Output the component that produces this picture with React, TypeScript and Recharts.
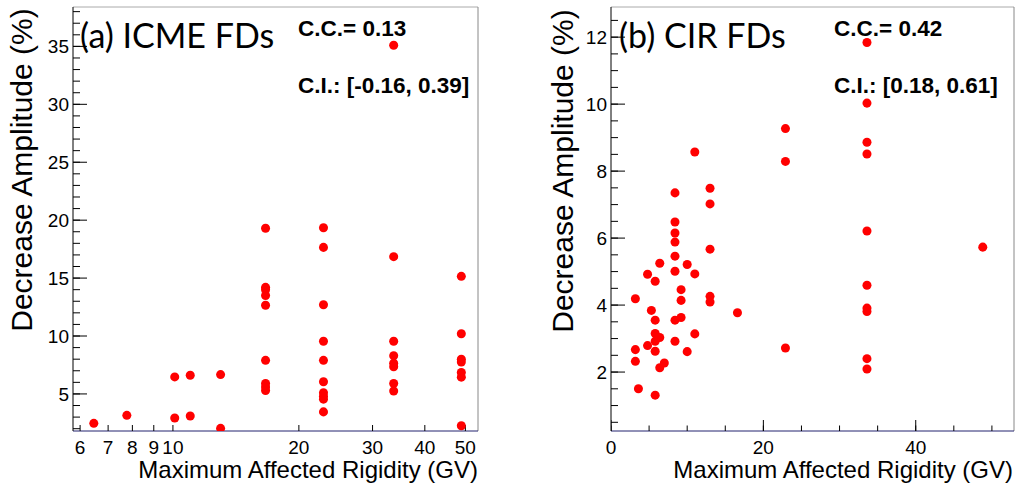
import { ReferenceLine, Scatter, ScatterChart, XAxis, YAxis, ZAxis } from 'recharts';

// (a) ICME FDs
const icmeRigidity = [
  6.47, 7.76, 10.1, 10.1, 11.0, 11.0, 13.0, 13.0,
  16.65, 16.65, 16.65, 16.65, 16.65, 16.65, 16.65, 16.65, 16.65,
  22.9, 22.9, 22.9, 22.9, 22.9, 22.9, 22.9, 22.9, 22.9, 22.9,
  33.7, 33.7, 33.7, 33.7, 33.7, 33.7, 33.7, 33.7,
  48.9, 48.9, 48.9, 48.9, 48.9, 48.9, 48.9,
];
const icmeAmplitude = [
  2.46, 3.15, 6.47, 2.92, 6.61, 3.1, 6.67, 2.03,
  19.3, 14.2, 14.0, 13.5, 12.65, 7.9, 5.9, 5.6, 5.3,
  19.35, 17.65, 12.7, 9.55, 7.9, 6.05, 5.1, 4.8, 4.55, 3.45,
  35.1, 16.85, 9.55, 8.3, 7.65, 7.35, 5.9, 5.25,
  15.15, 10.2, 8.0, 7.75, 6.85, 6.45, 2.25,
];

// (b) CIR FDs
const cirRigidity = [
  3.2, 3.2, 3.2, 3.6, 4.8, 4.8, 5.3,
  5.8, 5.8, 5.8, 5.8, 5.8, 5.8,
  6.4, 6.4, 6.4, 7.0,
  8.4, 8.4, 8.4, 8.4, 8.4, 8.4, 8.4, 8.4,
  9.2, 9.2, 9.2, 10.0, 10.0, 11.0, 11.0, 11.0,
  13.0, 13.0, 13.0, 13.0, 13.0, 16.6, 22.9, 22.9, 22.9,
  33.6, 33.6, 33.6, 33.6, 33.6, 33.6, 33.6, 33.6, 33.6, 33.6,
  48.8,
];
const cirAmplitude = [
  4.19, 2.67, 2.32, 1.5, 4.92, 2.79, 3.84,
  4.71, 3.55, 3.15, 2.92, 2.62, 1.31,
  5.25, 3.03, 2.13, 2.27,
  7.35, 6.48, 6.15, 5.88, 5.46, 5.01, 3.55, 2.92,
  4.46, 4.14, 3.63, 5.21, 2.61, 8.57, 4.93, 3.14,
  7.49, 7.02, 5.67, 4.26, 4.09, 3.77, 9.27, 8.29, 2.72,
  11.84, 10.03, 8.86, 8.51, 6.21, 4.59, 3.91, 3.81, 2.4, 2.09,
  5.73,
];

const icmeXTicks = [6, 7, 8, 9, 10, 20, 30, 40, 50];
const icmeYLabels = [5, 10, 15, 20, 25, 30, 35];
const icmeYTicks = [2, 3, 4, 5, 6, 7, 8, 9, 10, 11, 12, 13, 14, 15, 16, 17, 18, 19, 20, 21, 22, 23, 24, 25, 26, 27, 28, 29, 30, 31, 32, 33, 34, 35, 36, 37, 38];
const cirXLabels = [0, 20, 40];
const cirXTicks = [0, 5, 10, 15, 20, 25, 30, 35, 40, 45, 50];
const cirYLabels = [2, 4, 6, 8, 10, 12];
const cirYTicks = [0.5, 1, 1.5, 2, 2.5, 3, 3.5, 4, 4.5, 5, 5.5, 6, 6.5, 7, 7.5, 8, 8.5, 9, 9.5, 10, 10.5, 11, 11.5, 12, 12.5];

const icmeXDomain = [5.77, 53.6];
const icmeYDomain = [1.8, 38.4];
const cirXDomain = [0, 52.9];
const cirYDomain = [0.24, 12.9];

const FONT = '"Liberation Sans", Arial, Helvetica, sans-serif';
const TITLE_FONT = 'Lato, "Open Sans", sans-serif';

const icmeData = icmeRigidity.map((x, i) => ({ x, y: icmeAmplitude[i] }));
const cirData = cirRigidity.map((x, i) => ({ x, y: cirAmplitude[i] }));

// tick marks as points sitting on the axes, so they go through the same scales
const onYAxis = (vals: number[], x: number) => vals.map((y) => ({ x, y }));
const onXAxis = (vals: number[], y: number) => vals.map((x) => ({ x, y }));

const hTick = (len: number) => (p: any) => <rect x={p.cx} y={p.cy - 0.5} width={len} height={1} fill="#000" />;
const vTick = (len: number) => (p: any) => <rect x={p.cx - 0.5} y={p.cy - len} width={1} height={len} fill="#000" />;

const tickText = { fill: '#000', fontSize: 19, fontFamily: FONT };

// absolutely placed text, y is the baseline
function Txt(props: { x: number; y: number; size: number; bold?: boolean; font?: string; align?: 'left' | 'right'; children: string }) {
  const { x, y, size, bold, font, align = 'left', children } = props;
  const asc = font ? 0.887 : 0.8465;
  const w = 420;
  return (
    <div
      style={{
        position: 'absolute',
        left: align === 'left' ? x : x - w,
        top: y - asc * size,
        width: w,
        textAlign: align,
        fontFamily: font || FONT,
        fontSize: size,
        lineHeight: `${size}px`,
        fontWeight: bold ? 'bold' : 'normal',
        whiteSpace: 'nowrap',
        color: '#000',
      }}
    >
      {children}
    </div>
  );
}

// vertical title, bx is the baseline position and cy the centre
function VTxt({ bx, cy, size, children }: { bx: number; cy: number; size: number; children: string }) {
  const w = 420;
  const cx = bx - 0.8465 * size + size / 2;
  return (
    <div
      style={{
        position: 'absolute',
        left: cx - w / 2,
        top: cy - size / 2,
        width: w,
        height: size,
        textAlign: 'center',
        fontFamily: FONT,
        fontSize: size,
        lineHeight: `${size}px`,
        whiteSpace: 'nowrap',
        color: '#000',
        transform: 'rotate(-90deg)',
      }}
    >
      {children}
    </div>
  );
}

export default function App() {
  return (
    <div style={{ position: 'absolute', left: 0, top: 0, width: 1017, height: 487, background: '#fff' }}>
      <Txt x={80} y={48} size={34} font={TITLE_FONT}>(a) ICME FDs</Txt>
      <Txt x={298} y={37} size={22.5} bold>C.C.= 0.13</Txt>
      <Txt x={298} y={94} size={22.5} bold>C.I.: [-0.16, 0.39]</Txt>
      <Txt x={619} y={48} size={34} font={TITLE_FONT}>(b) CIR FDs</Txt>
      <Txt x={834} y={37} size={22.5} bold>C.C.= 0.42</Txt>
      <Txt x={834} y={94} size={22.5} bold>C.I.: [0.18, 0.61]</Txt>
      <Txt x={478} y={478} size={24} align="right">Maximum Affected Rigidity (GV)</Txt>
      <Txt x={1013} y={478} size={24} align="right">Maximum Affected Rigidity (GV)</Txt>
      <VTxt bx={32} cy={170} size={30}>Decrease Amplitude (%)</VTxt>
      <VTxt bx={573} cy={171} size={30}>Decrease Amplitude (%)</VTxt>

      <div style={{ position: 'absolute', left: 0, top: 0 }}>
        <ScatterChart width={500} height={487} margin={{ top: 7, right: 22, bottom: 0, left: 0 }}>
          <XAxis
            dataKey="x"
            type="number"
            scale="log"
            domain={icmeXDomain}
            allowDataOverflow
            ticks={icmeXTicks}
            interval={0}
            height={56}
            tickSize={4}
            tickMargin={6}
            tickLine={false}
            tick={tickText}
            axisLine={{ stroke: '#22226e' }}
          />
          <YAxis
            dataKey="y"
            type="number"
            domain={icmeYDomain}
            allowDataOverflow
            ticks={icmeYLabels}
            interval={0}
            width={73}
            tickSize={2}
            tickMargin={2}
            tickLine={false}
            tick={tickText}
            axisLine={{ stroke: '#000' }}
          />
          <ZAxis range={[64, 64]} />
          <ReferenceLine y={icmeYDomain[1]} stroke="#aaa" ifOverflow="extendDomain" />
          <ReferenceLine x={icmeXDomain[1]} stroke="#888" ifOverflow="extendDomain" />
          <Scatter data={onYAxis(icmeYTicks, icmeXDomain[0])} shape={hTick(7)} isAnimationActive={false} />
          <Scatter data={onYAxis(icmeYLabels, icmeXDomain[0])} shape={hTick(14)} isAnimationActive={false} />
          <Scatter data={onXAxis(icmeXTicks, icmeYDomain[0])} shape={vTick(6)} isAnimationActive={false} />
          <Scatter data={icmeData} fill="#ff0000" isAnimationActive={false} />
        </ScatterChart>
      </div>
      <div style={{ position: 'absolute', left: 540, top: 0 }}>
        <ScatterChart width={477} height={487} margin={{ top: 7, right: 3, bottom: 0, left: 0 }}>
          <XAxis
            dataKey="x"
            type="number"
            domain={cirXDomain}
            allowDataOverflow
            ticks={cirXLabels}
            interval={0}
            height={56}
            tickSize={4}
            tickMargin={6}
            tickLine={false}
            tick={tickText}
            axisLine={{ stroke: '#22226e' }}
          />
          <YAxis
            dataKey="y"
            type="number"
            domain={cirYDomain}
            allowDataOverflow
            ticks={cirYLabels}
            interval={0}
            width={71}
            tickSize={2}
            tickMargin={2}
            tickLine={false}
            tick={tickText}
            axisLine={{ stroke: '#000' }}
          />
          <ZAxis range={[64, 64]} />
          <ReferenceLine y={cirYDomain[1]} stroke="#aaa" ifOverflow="extendDomain" />
          <ReferenceLine x={cirXDomain[1]} stroke="#888" ifOverflow="extendDomain" />
          <Scatter data={onYAxis(cirYTicks, cirXDomain[0])} shape={hTick(7)} isAnimationActive={false} />
          <Scatter data={onYAxis(cirYLabels, cirXDomain[0])} shape={hTick(14)} isAnimationActive={false} />
          <Scatter data={onXAxis(cirXTicks, cirYDomain[0])} shape={vTick(5.5)} isAnimationActive={false} />
          <Scatter data={onXAxis(cirXLabels, cirYDomain[0])} shape={vTick(11)} isAnimationActive={false} />
          <Scatter data={cirData} fill="#ff0000" isAnimationActive={false} />
        </ScatterChart>
      </div>
    </div>
  );
}
